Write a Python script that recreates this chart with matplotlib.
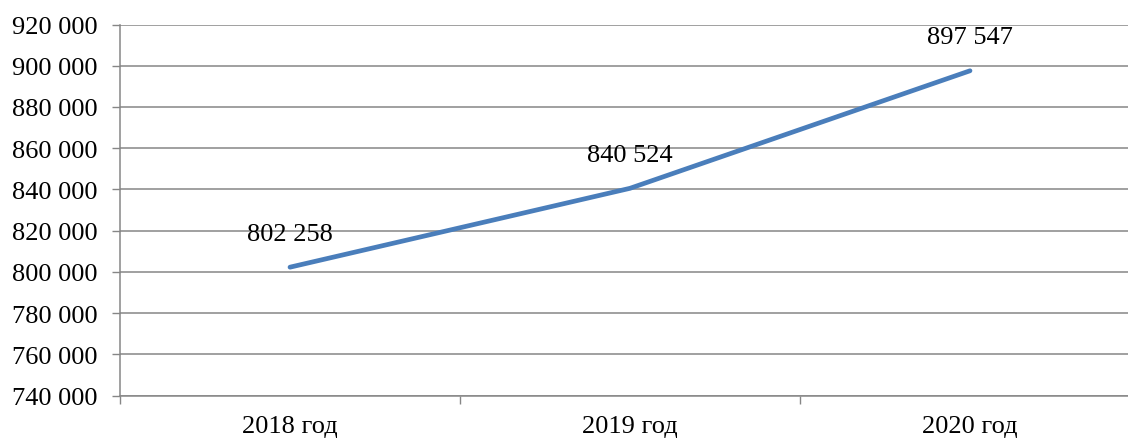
import matplotlib.pyplot as plt
from matplotlib.ticker import FuncFormatter, MultipleLocator

years = ['2018 год', '2019 год', '2020 год']
values = [802258, 840524, 897547]

y_min, y_max, y_step = 740000, 920000, 20000


def spaced(v, pos=None):
    return f'{int(v):,}'.replace(',', ' ')


plt.rcParams['font.family'] = ['Liberation Serif', 'DejaVu Serif']
plt.rcParams['font.size'] = 19

fig = plt.figure(figsize=(11.28, 4.39), dpi=100)
# the plot area runs a little past the right edge of the figure
ax = fig.add_axes([120 / 1128, 1 - 396.5 / 439, 1020 / 1128, 371 / 439])

x = list(range(len(years)))
ax.plot(x, values, color='#4A7EBB', linewidth=3.4, solid_capstyle='round',
        zorder=3)

for xi, v in zip(x, values):
    ax.annotate(spaced(v), (xi, v), xytext=(0, 24), textcoords='offset points',
                ha='center', va='center', fontsize=19)

ax.set_xlim(-0.5, len(years) - 0.5)
ax.set_ylim(y_min, y_max)
ax.yaxis.set_major_locator(MultipleLocator(y_step))
ax.yaxis.set_major_formatter(FuncFormatter(spaced))

ax.set_xticks(x)
ax.set_xticklabels(years)
ax.set_xticks([i - 0.5 for i in range(len(years) + 1)], minor=True)
ax.tick_params(axis='x', which='major', length=0, pad=14)
ax.tick_params(axis='x', which='minor', length=6, width=1, color='#868686')
ax.tick_params(axis='y', length=6, width=1, color='#868686', pad=10)

ax.grid(axis='y', color='#868686', linewidth=1.1)
ax.set_axisbelow(True)

for side in ['top', 'right']:
    ax.spines[side].set_visible(False)
for side in ['left', 'bottom']:
    ax.spines[side].set_color('#868686')
    ax.spines[side].set_linewidth(1.1)

fig.savefig('out.png', dpi=100)
